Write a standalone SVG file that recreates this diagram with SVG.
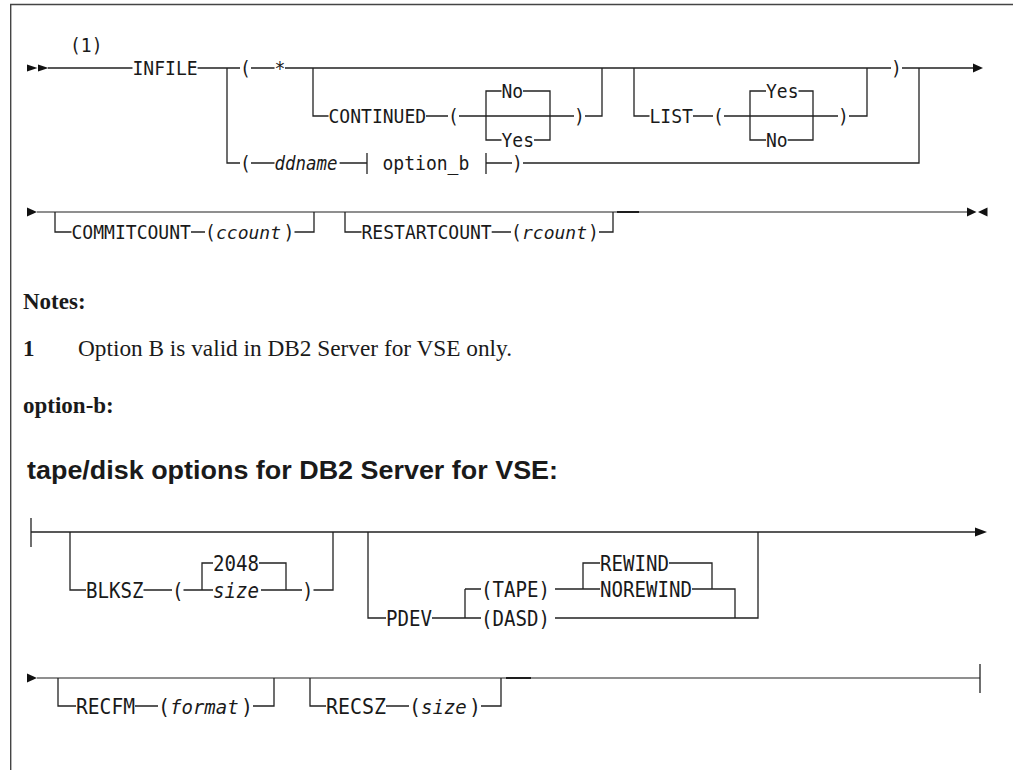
<svg xmlns="http://www.w3.org/2000/svg" width="1013" height="770" viewBox="0 0 1013 770">
<style>
.ln{stroke:#222;stroke-width:1.3;fill:none}
.lg{stroke:#6a6a6a;stroke-width:1.5;fill:none}
.ld{stroke:#111;stroke-width:1.8;fill:none}
.fr{stroke:#444;stroke-width:1.4;fill:none}
.ah{fill:#111;stroke:none}
.m{font-family:"DejaVu Sans Mono",monospace;font-size:20px;fill:#1a1a1a}
.m2{font-family:"DejaVu Sans Mono",monospace;font-size:21px;fill:#1a1a1a}
.i{font-style:italic}
.a1{font-size:18px}
.a2{font-size:19px}
.sb{font-family:"Liberation Serif","Times New Roman",serif;font-weight:bold;font-size:23px;fill:#1a1a1a}
.s{font-family:"Liberation Serif","Times New Roman",serif;font-size:23px;fill:#1a1a1a}
.h{font-family:"Liberation Sans",Arial,sans-serif;font-weight:bold;font-size:26px;fill:#1a1a1a}
</style>
<rect width="1013" height="770" fill="#fff"/>
<g id="frame">
<path class="fr" d="M10.7 770V4.5H1013"/>
</g>
<g id="connectors">
<path class="ln" d="M48 68H132.5 M197.6 68H240 M251 68H274.5 M285 68H891 M902 68H973"/>
<path class="ln" d="M227 68V163H240"/>
<path class="ln" d="M313 68V116H328.5 M426 116H448 M459 116H574 M585 116H602V68"/>
<path class="ln" d="M501.5 91H486V140H501.5 M523 91H550V140H534"/>
<path class="ln" d="M634 68V116H649.5 M693 116H713 M724 116H838 M849 116H867V68"/>
<path class="ln" d="M766 91H750V140H766 M798.5 91H813V140H787.7"/>
<path class="ln" d="M251 163H274.5 M339.6 163H367 M367 153V174 M486 153V174 M486 163H512 M523 163H919V68"/>
<polygon class="ah" points="27,64.5 37.5,68 27,71.5"/>
<polygon class="ah" points="38,64.5 48.5,68 38,71.5"/>
<polygon class="ah" points="973,63.5 983,68 973,72.5"/>
<path class="lg" d="M37 212H967"/>
<path class="ln" d="M55 212V232H71.5 M191 232H205 M294.5 232H314V212"/>
<path class="ln" d="M345 212V232H361.5 M491.7 232H511 M599 232H613V212"/>
<path class="ld" d="M617 212H639"/>
<polygon class="ah" points="27,207.5 37,212 27,216.5"/>
<polygon class="ah" points="967,207.5 976.5,212 967,216.5"/>
<polygon class="ah" points="987.5,207.5 978,212 987.5,216.5"/>
<path class="ln" d="M31 518V547 M31 532H975"/>
<path class="ln" d="M70 532V590H86 M143.5 590H172 M183.5 590H213 M261 590H302 M313.5 590H333V532"/>
<path class="ln" d="M213 563H202V590 M259 563H286V590"/>
<path class="ln" d="M368 532V618H386 M432 618H481 M465 589V618 M465 589H481 M555 589H600 M555 618H758V532"/>
<path class="ln" d="M600 563H583V589 M669 563H712V589 M692 589H735V618"/>
<polygon class="ah" points="975,527.5 987,532 975,536.5"/>
<path class="lg" d="M37 678H980"/>
<path class="ln" d="M980 664V693"/>
<path class="ln" d="M58 678V706H76 M135 706H158 M253 706H274V678"/>
<path class="ln" d="M310 678V706H326 M386 706H409 M481 706H501V678"/>
<path class="ld" d="M506 678H531"/>
<polygon class="ah" points="27,673.5 37,678 27,682.5"/>
</g>
<g id="note-ref"><text class="m" x="70" y="52" textLength="32.5" lengthAdjust="spacingAndGlyphs">(1)</text></g>
<g id="node-infile"><text class="m" x="132.5" y="75" textLength="65.1" lengthAdjust="spacingAndGlyphs">INFILE</text></g>
<g id="node-star"><text class="m" x="240" y="75" textLength="10.85" lengthAdjust="spacingAndGlyphs">(</text><text class="m" x="274.5" y="75" textLength="10.85" lengthAdjust="spacingAndGlyphs">*</text></g>
<g id="node-continued"><text class="m" x="328.5" y="123" textLength="97.6" lengthAdjust="spacingAndGlyphs">CONTINUED</text><text class="m" x="448" y="123" textLength="10.85" lengthAdjust="spacingAndGlyphs">(</text><text class="m" x="574" y="123" textLength="10.85" lengthAdjust="spacingAndGlyphs">)</text></g>
<g id="node-cont-no"><text class="m" x="501.5" y="98" textLength="21.7" lengthAdjust="spacingAndGlyphs">No</text></g>
<g id="node-cont-yes"><text class="m" x="501.5" y="147" textLength="32.5" lengthAdjust="spacingAndGlyphs">Yes</text></g>
<g id="node-list"><text class="m" x="649.5" y="123" textLength="43.4" lengthAdjust="spacingAndGlyphs">LIST</text><text class="m" x="713" y="123" textLength="10.85" lengthAdjust="spacingAndGlyphs">(</text><text class="m" x="838" y="123" textLength="10.85" lengthAdjust="spacingAndGlyphs">)</text></g>
<g id="node-list-yes"><text class="m" x="766" y="98" textLength="32.5" lengthAdjust="spacingAndGlyphs">Yes</text></g>
<g id="node-list-no"><text class="m" x="766" y="147" textLength="21.7" lengthAdjust="spacingAndGlyphs">No</text></g>
<g id="node-close1"><text class="m" x="891" y="75" textLength="10.85" lengthAdjust="spacingAndGlyphs">)</text></g>
<g id="node-ddname"><text class="m" x="240" y="170" textLength="10.85" lengthAdjust="spacingAndGlyphs">(</text><text class="m i" x="274.5" y="170" textLength="63" lengthAdjust="spacingAndGlyphs">ddname</text></g>
<g id="node-option-b-ref"><text class="m" x="382.5" y="170" textLength="86.8" lengthAdjust="spacingAndGlyphs">option_b</text></g>
<g id="node-close2"><text class="m" x="512" y="170" textLength="10.85" lengthAdjust="spacingAndGlyphs">)</text></g>
<g id="node-commitcount"><text class="m" x="71.5" y="239" textLength="119.4" lengthAdjust="spacingAndGlyphs">COMMITCOUNT</text><text class="m" x="205" y="239" textLength="10.85" lengthAdjust="spacingAndGlyphs">(</text><text class="m i a1" x="216" y="239">ccount</text><text class="m" x="283.5" y="239" textLength="10.85" lengthAdjust="spacingAndGlyphs">)</text></g>
<g id="node-restartcount"><text class="m" x="361.5" y="239" textLength="130.2" lengthAdjust="spacingAndGlyphs">RESTARTCOUNT</text><text class="m" x="511" y="239" textLength="10.85" lengthAdjust="spacingAndGlyphs">(</text><text class="m i a1" x="522" y="239">rcount</text><text class="m" x="588" y="239" textLength="10.85" lengthAdjust="spacingAndGlyphs">)</text></g>
<g id="notes">
<text class="sb" x="23" y="309">Notes:</text>
<text class="sb" x="23" y="356">1</text>
<text class="s" x="78" y="356" textLength="434" lengthAdjust="spacingAndGlyphs">Option B is valid in DB2 Server for VSE only.</text>
<text class="sb" x="23" y="413">option-b:</text>
<text class="h" x="27" y="479" textLength="531" lengthAdjust="spacingAndGlyphs">tape/disk options for DB2 Server for VSE:</text>
</g>
<g id="node-blksz"><text class="m2" x="86" y="597.5" textLength="57.5" lengthAdjust="spacingAndGlyphs">BLKSZ</text><text class="m2" x="172" y="597.5" textLength="11.5" lengthAdjust="spacingAndGlyphs">(</text><text class="m2" x="302" y="597.5" textLength="11.5" lengthAdjust="spacingAndGlyphs">)</text></g>
<g id="node-2048"><text class="m2" x="213" y="570.5" textLength="46" lengthAdjust="spacingAndGlyphs">2048</text></g>
<g id="node-size1"><text class="m2 i" x="213" y="597.5" textLength="46" lengthAdjust="spacingAndGlyphs">size</text></g>
<g id="node-pdev"><text class="m2" x="386" y="625.5" textLength="46" lengthAdjust="spacingAndGlyphs">PDEV</text></g>
<g id="node-tape"><text class="m2" x="481" y="596.5" textLength="69" lengthAdjust="spacingAndGlyphs">(TAPE)</text></g>
<g id="node-dasd"><text class="m2" x="481" y="625.5" textLength="69" lengthAdjust="spacingAndGlyphs">(DASD)</text></g>
<g id="node-rewind"><text class="m2" x="600" y="570.5" textLength="69" lengthAdjust="spacingAndGlyphs">REWIND</text></g>
<g id="node-norewind"><text class="m2" x="600" y="596.5" textLength="92" lengthAdjust="spacingAndGlyphs">NOREWIND</text></g>
<g id="node-recfm"><text class="m2" x="76" y="713.5" textLength="59" lengthAdjust="spacingAndGlyphs">RECFM</text><text class="m2" x="158" y="713.5" textLength="12" lengthAdjust="spacingAndGlyphs">(</text><text class="m2 i a2" x="170" y="713.5">format</text><text class="m2" x="241" y="713.5" textLength="12" lengthAdjust="spacingAndGlyphs">)</text></g>
<g id="node-recsz"><text class="m2" x="326" y="713.5" textLength="60" lengthAdjust="spacingAndGlyphs">RECSZ</text><text class="m2" x="409" y="713.5" textLength="12" lengthAdjust="spacingAndGlyphs">(</text><text class="m2 i a2" x="421" y="713.5">size</text><text class="m2" x="469" y="713.5" textLength="12" lengthAdjust="spacingAndGlyphs">)</text></g>
</svg>
